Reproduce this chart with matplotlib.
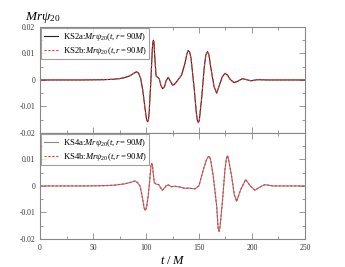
import matplotlib
matplotlib.use('Agg')
import matplotlib.pyplot as plt
from matplotlib.ticker import MultipleLocator

plt.rcParams['font.family'] = ['Liberation Serif', 'DejaVu Serif']
plt.rcParams['mathtext.fontset'] = 'custom'
plt.rcParams['mathtext.rm'] = 'Liberation Serif'
plt.rcParams['mathtext.it'] = 'Liberation Serif:italic'

# waveform: Mr psi_20 at r=90M
t_ks2 = [0, 20, 40, 60, 70, 75, 80, 85, 88, 91, 93, 95, 97, 99, 100.5, 101.5, 102.3,
         103, 104.5, 106, 106.5, 107, 107.5, 108, 109.5, 111, 112.5, 114, 115.7,
         117.5, 119, 121, 123, 125, 126.5, 129, 131, 133.6, 136.8, 138.5, 139.9,
         141.2, 142.5, 145.6, 147.5, 148.5, 149.4, 150.3, 151, 152.5, 155, 156.5,
         157.9, 159.3, 161, 164.2, 166.7, 169.8, 172, 174.5, 177, 179.2, 183, 187,
         191, 195, 199, 205, 215, 230, 250]
ks2a = [0, 0, 0, 0.0001, 0.0003, 0.0005, 0.0009, 0.0016, 0.0024, 0.0031, 0.0026,
        0.0005, -0.004, -0.0105, -0.0148, -0.0158, -0.0152, -0.012, -0.001, 0.012,
        0.0142, 0.015, 0.0143, 0.0105, 0.0015, 0.001, 0.0005, -0.002, -0.0033,
        -0.0025, -0.0003, 0.001, -0.0005, -0.0019, -0.0018, -0.0006, 0.0005, 0.0019,
        0.0063, 0.0098, 0.0111, 0.0105, 0.0082, -0.0038, -0.0125, -0.0152, -0.0161,
        -0.0153, -0.0125, -0.0069, 0.005, 0.0095, 0.0107, 0.0097, 0.005, -0.0025,
        -0.005, -0.0013, 0.0012, 0.0025, 0.0018, 0.0003, -0.001, -0.0004, 0.0005,
        0.0001, -0.0003, 0.0001, 0, 0, 0]
ks2b = list(ks2a)

t_ks4 = [0, 20, 40, 60, 70, 80, 85, 89.6, 92, 94.3, 96, 97.5, 98.2, 99, 99.8, 100.5,
         102, 103.5, 104.6, 105.3, 106, 106.5, 107.8, 109.5, 112, 113.5, 115.4, 117.5,
         119, 121, 124, 127, 132, 136.8, 140, 146.2, 150, 154.1, 157, 158.5, 159.8,
         161, 163.5, 166.7, 168, 168.9, 169.8, 172, 174.5, 176, 177, 178, 180.8,
         183.3, 185.5, 189.3, 194, 198.7, 202.8, 207.5, 212, 220, 235, 250]
ks4a = [0, 0, 0, 0.0001, 0.0003, 0.0008, 0.0013, 0.0019, 0.0013, 0, -0.003,
        -0.0065, -0.0082, -0.0092, -0.0088, -0.008, -0.004, 0.002, 0.0075, 0.0085,
        0.008, 0.006, 0.0013, 0.0007, 0.0005, -0.0005, -0.0016, -0.0008, 0.0001,
        0.0004, -0.0003, -0.0001, -0.0004, -0.0009, -0.0008, -0.0011, 0.0001,
        0.0062, 0.0098, 0.0109, 0.0112, 0.0098, 0.0036, -0.0077, -0.0158, -0.0171,
        -0.0155, -0.0064, 0.0062, 0.0108, 0.0114, 0.0098, 0.0036, -0.0033, -0.0058,
        -0.0014, 0.0024, -0.0001, -0.0016, -0.0004, 0.0005, 0, 0, 0]
ks4b = list(ks4a)

ytick_vals = [-0.02, -0.01, 0, 0.01, 0.02]
ytick_text = ['-0.02', '-0.01', '0', '0.01', '0.02']
xtick_vals = [0, 50, 100, 150, 200, 250]

lab2a = r'KS2a:$Mr\psi_{\mathit{20}}(t,r\mathit{=90}M)$'
lab2b = r'KS2b:$Mr\psi_{\mathit{20}}(t,r\mathit{=90}M)$'
lab4a = r'KS4a:$Mr\psi_{\mathit{20}}(t,r\mathit{=90}M)$'
lab4b = r'KS4b:$Mr\psi_{\mathit{20}}(t,r\mathit{=90}M)$'

frame = '#888888'

fig = plt.figure(figsize=(3.45, 2.67), dpi=100)
ax1 = fig.add_axes([0.116, 0.502, 0.768, 0.397])
ax2 = fig.add_axes([0.116, 0.105, 0.768, 0.397])

ax1.plot(t_ks2, ks2a, color='#222222', lw=0.8, label=lab2a)
ax1.plot(t_ks2, ks2b, color='#ff3030', lw=0.8, dashes=(2, 1.5), label=lab2b)
ax2.plot(t_ks4, ks4a, color='#888888', lw=0.8, label=lab4a)
ax2.plot(t_ks4, ks4b, color='#ff3030', lw=0.8, dashes=(2, 1.5), label=lab4b)

for ax in (ax1, ax2):
    ax.set_xlim(0, 250)
    ax.set_ylim(-0.02, 0.02)
    ax.set_xticks(xtick_vals)
    ax.xaxis.set_minor_locator(MultipleLocator(25))
    ax.set_yticks(ytick_vals)
    ax.yaxis.set_minor_locator(MultipleLocator(0.005))
    ax.tick_params(which='both', direction='in', top=True, right=True,
                   colors=frame, labelcolor='#333333', labelsize=5.5, width=0.6)
    ax.tick_params(which='major', length=4)
    ax.tick_params(which='minor', length=2)
    for s in ax.spines.values():
        s.set_color(frame)
        s.set_linewidth(0.8)
    leg = ax.legend(loc='upper left', fontsize=6.2, frameon=True, fancybox=False,
                    borderaxespad=0.15, handlelength=1.6, handletextpad=0.6,
                    labelspacing=0.2, borderpad=0.3)
    leg.get_frame().set_edgecolor(frame)
    leg.get_frame().set_linewidth(0.8)

ax1.set_yticklabels(ytick_text)
ax1.tick_params(labelbottom=False)
ax2.set_yticklabels(ytick_text[:-1] + [''])
ax2.set_xticklabels([str(v) for v in xtick_vals])
ax2.set_xlabel(r'$t\ /\ M$', fontsize=9, labelpad=2)

fig.text(0.072, 0.925, r'$Mr\psi_{\mathit{20}}$', fontsize=9.5)

fig.savefig('out.png', dpi=100)
